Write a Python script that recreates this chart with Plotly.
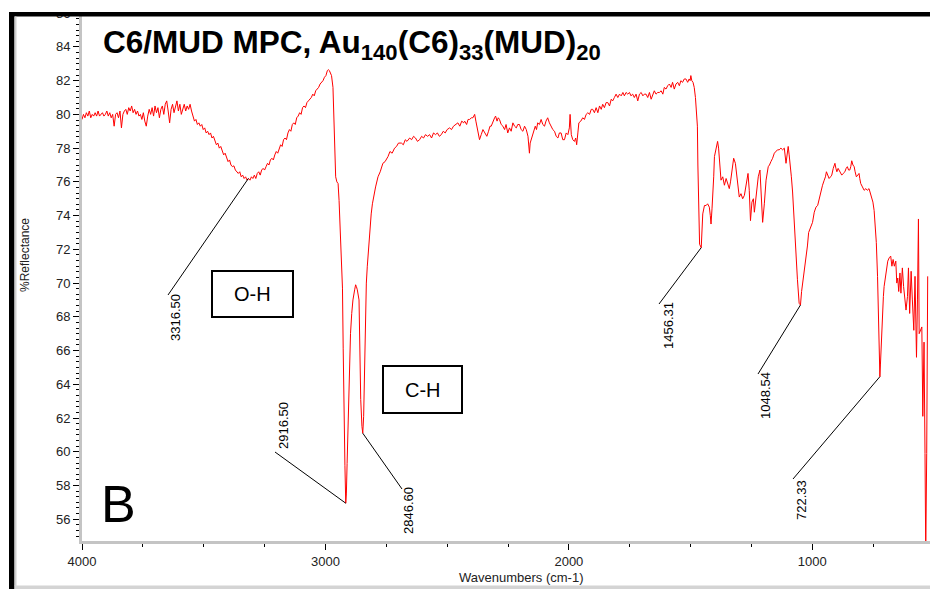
import plotly.graph_objects as go

# ---------------- data ----------------
wn_plateau = [
    4000, 3994, 3988, 3982, 3976, 3970, 3964, 3958, 3952, 3946,
    3940, 3934, 3928, 3922, 3916, 3910, 3904, 3898, 3892, 3886,
    3880, 3874, 3868, 3862, 3856, 3850, 3844, 3838, 3832, 3826,
    3820, 3814, 3808, 3802, 3796, 3790, 3784, 3778, 3772, 3766,
    3760, 3754, 3748, 3742, 3736, 3730, 3724, 3718, 3712, 3706,
    3700, 3694, 3688, 3682, 3676, 3670, 3664, 3658, 3652, 3646,
    3640, 3634, 3628, 3622, 3616, 3610, 3604, 3598, 3592, 3586,
    3580, 3574, 3568, 3562, 3556, 3550]
r_plateau = [
    79.7, 80.0, 79.8, 80.1, 79.9, 80.2, 79.8, 80.0, 79.9, 80.1,
    79.9, 80.2, 79.9, 80.0, 80.1, 79.9, 80.0, 80.2, 79.9, 80.1,
    79.8, 80.0, 79.3, 80.0, 80.1, 79.8, 80.2, 79.2, 80.0, 80.2,
    80.3, 80.0, 80.4, 80.2, 80.5, 80.1, 80.3, 80.0, 80.2, 79.9,
    80.0, 79.7, 80.1, 79.6, 79.3, 79.9, 80.3, 80.0, 80.4, 79.9,
    80.5, 80.1, 80.4, 79.8, 80.3, 80.5, 80.0, 80.6, 80.8, 80.2,
    79.5, 80.3, 80.6, 80.1, 80.5, 80.8, 80.2, 80.6, 80.0, 80.4,
    80.6, 80.2, 80.5, 80.3, 80.6, 80.2]

wn_oh_band = [
    3544, 3538, 3532, 3526, 3520, 3514, 3508, 3502, 3496, 3490,
    3484, 3478, 3472, 3466, 3460, 3454, 3448, 3442, 3436, 3430,
    3424, 3418, 3412, 3406, 3400, 3394, 3388, 3382, 3376, 3370,
    3364, 3358, 3352, 3346, 3340, 3334, 3328, 3322, 3316.5, 3310,
    3304, 3298, 3292, 3286, 3280, 3274, 3268, 3262, 3256, 3250,
    3244, 3238, 3232, 3226, 3220, 3214, 3208, 3202, 3196, 3190,
    3184, 3178, 3172, 3166, 3160, 3154, 3148, 3142, 3136, 3130,
    3124, 3118, 3112, 3106, 3100, 3094, 3088, 3082, 3076, 3070,
    3064, 3058, 3052, 3046, 3040, 3034, 3028, 3022, 3016, 3010,
    3004, 2998, 2992, 2988, 2984, 2980]
r_oh_band = [
    79.8, 79.6, 79.7, 79.4, 79.5, 79.3, 79.4, 79.1, 79.2, 78.9,
    79.0, 78.8, 78.9, 78.6, 78.7, 78.4, 78.2, 78.3, 78.0, 78.1,
    77.8, 77.6, 77.7, 77.4, 77.2, 77.3, 77.0, 76.9, 76.95, 76.7,
    76.6, 76.5, 76.6, 76.3, 76.4, 76.2, 76.3, 76.1, 76.2, 76.1,
    76.3, 76.2, 76.4, 76.2, 76.5, 76.6, 76.4, 76.7, 76.8, 76.7,
    76.9, 77.1, 77.0, 77.3, 77.4, 77.3, 77.6, 77.8, 77.7, 78.0,
    78.2, 78.1, 78.5, 78.6, 78.5, 78.9, 79.1, 79.0, 79.4, 79.5,
    79.4, 79.8, 79.9, 80.1, 80.0, 80.4, 80.5, 80.4, 80.7, 80.8,
    80.9, 81.0, 81.2, 81.1, 81.4, 81.5, 81.6, 81.8, 81.9, 82.0,
    82.2, 82.3, 82.6, 82.65, 82.6, 82.5]

wn_ch_band = [
    2975, 2969, 2966, 2961, 2958, 2953, 2948, 2944, 2938, 2934,
    2932, 2930, 2927, 2925, 2922, 2920, 2916.5, 2914, 2911, 2907,
    2904, 2897, 2892, 2887, 2880, 2876, 2873, 2869, 2862, 2859,
    2855, 2850, 2846.6, 2843, 2839, 2835, 2832, 2828, 2825, 2818,
    2812, 2807, 2800, 2794, 2784, 2775, 2764, 2755, 2743, 2735,
    2726, 2716, 2708, 2700]
r_ch_band = [
    82.3, 81.6, 80.3, 77.9, 76.3, 76.0, 75.9, 74.9, 73.0, 71.4,
    70.5, 69.7, 66.1, 63.5, 61.5, 59.2, 56.95, 57.5, 59.3, 62.0,
    64.1, 67.0, 68.2, 69.0, 69.6, 69.9, 69.8, 69.6, 69.0, 66.0,
    63.1, 61.5, 61.1, 62.1, 66.0, 68.5, 70.0, 71.0, 71.7, 73.3,
    74.1, 74.7, 75.3, 75.7, 76.3, 76.6, 77.1, 77.2, 77.5, 77.8,
    77.7, 78.0, 78.1, 78.3]

wn_mid = [
    2688, 2680, 2672, 2665, 2654, 2646, 2638, 2630, 2622, 2613,
    2605, 2597, 2589, 2580, 2572, 2564, 2556, 2548, 2540, 2532,
    2524, 2516, 2508, 2500, 2490, 2482, 2474, 2466, 2456, 2448,
    2440, 2432, 2428, 2420, 2414, 2408, 2400, 2394, 2387, 2382,
    2378, 2372, 2367, 2360, 2353, 2345, 2337, 2330, 2324, 2319,
    2312, 2305, 2301, 2295, 2290, 2285, 2278, 2271, 2264, 2258,
    2251, 2244, 2237, 2230, 2223, 2216, 2210, 2203, 2196, 2189,
    2182, 2175, 2168, 2164, 2162, 2159, 2155, 2150, 2145, 2138,
    2133, 2128, 2121, 2114, 2107, 2100, 2094, 2087, 2080, 2073,
    2066, 2059, 2052, 2045, 2039, 2032, 2025, 2018, 2011, 2004,
    1998, 1995, 1992, 1990, 1984, 1977, 1972, 1968, 1963, 1959,
    1951, 1943, 1936, 1929, 1922, 1915, 1908, 1902, 1895, 1888,
    1881, 1874, 1867, 1861, 1854, 1847, 1840, 1833, 1826, 1820,
    1813, 1806, 1799, 1792, 1785, 1778, 1772, 1765, 1758, 1751,
    1745, 1738, 1731, 1724, 1717, 1710, 1703, 1696, 1690, 1683,
    1676, 1669, 1662, 1655, 1649, 1642, 1635, 1628, 1621, 1614,
    1608, 1601, 1594, 1587, 1580, 1574, 1567, 1560, 1553, 1546,
    1540, 1533, 1526, 1519, 1512, 1506, 1502, 1499, 1495, 1490,
    1485, 1480, 1478, 1475, 1472]
r_mid = [
    78.3, 78.2, 78.5, 78.4, 78.6, 78.5, 78.7, 78.6, 78.4, 78.5,
    78.7, 78.6, 78.8, 78.7, 78.8, 78.6, 78.9, 78.8, 78.9, 78.7,
    78.8, 79.0, 78.9, 79.1, 79.2, 79.1, 79.3, 79.4, 79.5, 79.3,
    79.6, 79.5, 79.6, 79.4, 79.7, 79.7, 79.8, 79.8, 80.0, 79.6,
    79.3, 78.9, 78.5, 78.8, 79.1, 78.9, 78.7, 79.0, 79.3, 79.3,
    79.6, 79.8, 79.9, 79.6, 79.8, 79.7, 79.4, 79.3, 79.1, 79.4,
    78.9, 79.2, 79.0, 79.5, 79.3, 79.2, 79.4, 79.4, 79.1, 79.0,
    79.3, 79.1, 78.7, 78.2, 77.7, 78.3, 78.5, 78.8, 79.0, 79.3,
    79.1, 79.5, 79.4, 79.7, 79.4, 79.3, 79.6, 79.8, 79.5, 79.3,
    79.1, 79.0, 78.7, 78.6, 78.9, 78.9, 78.5, 78.5, 78.9, 78.8,
    79.2, 80.0, 79.1, 78.8, 78.5, 78.4, 78.6, 78.2, 78.9, 79.5,
    79.6, 79.8, 79.7, 80.0, 80.1, 80.0, 80.3, 80.3, 80.1, 80.4,
    80.1, 80.5, 80.3, 80.6, 80.4, 80.7, 80.7, 80.5, 80.9, 80.8,
    81.0, 81.2, 81.0, 81.2, 81.1, 81.3, 81.1, 81.3, 81.2, 81.3,
    81.1, 81.2, 81.0, 81.2, 80.8, 81.2, 81.3, 81.1, 81.2, 81.2,
    81.0, 81.3, 80.9, 81.2, 81.4, 81.2, 81.3, 81.3, 81.4, 81.2,
    81.6, 81.5, 81.7, 81.8, 81.6, 81.9, 81.5, 81.8, 81.9, 81.7,
    82.0, 81.9, 82.1, 82.1, 81.9, 82.1, 82.0, 82.3, 82.0, 81.9,
    81.6, 81.0, 80.5, 79.9, 79.3]

wn_fingerprint = [
    1470, 1468, 1466, 1463, 1456.31, 1454, 1450, 1443, 1436, 1430,
    1423, 1419, 1416, 1412, 1409, 1405, 1402, 1395, 1389, 1385,
    1382, 1378, 1375, 1368, 1361, 1354, 1348, 1341, 1336, 1330,
    1323, 1316, 1311, 1307, 1300, 1293, 1286, 1279, 1274, 1270,
    1264, 1259, 1254, 1248, 1242, 1238, 1231, 1226, 1222, 1215,
    1210, 1204, 1197, 1190, 1181, 1176, 1170, 1163, 1156, 1150,
    1143, 1136, 1129, 1122, 1115, 1108, 1104, 1099, 1095, 1091,
    1086, 1081, 1076, 1070, 1067, 1061, 1054, 1048.54, 1044, 1037,
    1031, 1026, 1020, 1015, 1006, 999, 992, 985, 978, 972,
    965, 958, 951, 946, 942, 936, 931, 925, 920, 914,
    907, 903, 899, 894, 890, 884, 879, 873, 866, 861,
    856, 851, 846, 842, 838, 833, 828, 824, 819, 813,
    808, 805, 801, 794, 787, 780, 774, 767, 761, 756,
    751, 746, 741, 737, 732, 728, 725, 722.33, 720, 718,
    715, 712, 708, 705, 701, 698, 694, 690, 684, 678,
    673, 668, 663, 657, 653, 649, 645, 640, 636, 630,
    625, 619, 615, 609, 605, 600, 594, 589, 583, 578,
    572, 568, 564, 561, 556, 550, 546, 541, 537, 534,
    530, 526]
r_fingerprint = [
    77.0, 75.4, 73.5, 72.3, 72.1, 72.7, 74.1, 74.6, 74.6, 74.7,
    74.5, 74.0, 73.5, 74.4, 75.1, 76.3, 77.5, 78.1, 78.4, 78.0,
    77.5, 76.8, 76.1, 76.3, 75.8, 76.2, 75.9, 75.6, 76.0, 76.7,
    77.4, 77.1, 76.5, 75.9, 75.1, 75.3, 75.0, 75.2, 75.7, 76.2,
    76.5, 75.5, 73.7, 74.8, 75.0, 74.2, 75.1, 75.8, 76.3, 76.7,
    75.5, 73.6, 74.7, 76.1, 76.9, 77.0, 77.2, 77.4, 77.7, 77.8,
    77.9, 77.9, 78.0, 77.9, 78.0, 77.1, 77.6, 78.1, 77.6, 77.1,
    76.3, 75.4, 73.9, 72.4, 71.4, 70.2, 68.8, 68.7, 69.5, 70.2,
    70.8, 71.4, 72.2, 73.0, 73.3, 73.6, 74.2, 74.5, 74.6, 75.0,
    75.5, 75.8, 76.1, 76.3, 76.6, 76.4, 76.2, 76.3, 76.4, 76.8,
    77.1, 76.8, 76.6, 76.8, 76.7, 76.6, 76.4, 76.5, 76.6, 76.8,
    76.9, 76.7, 76.7, 76.9, 77.25, 77.0, 76.9, 76.6, 76.3, 76.4,
    76.5, 76.2, 75.9, 75.7, 75.5, 75.6, 75.5, 75.6, 75.3, 75.1,
    74.8, 74.3, 73.3, 72.4, 70.4, 68.4, 66.5, 64.45, 65.2, 66.0,
    67.2, 68.4, 69.2, 69.8, 70.3, 70.6, 71.0, 71.3, 71.5, 71.6,
    71.0, 71.4, 71.0, 71.3, 70.0, 70.3, 69.5, 70.6, 69.4, 70.9,
    69.8, 69.0, 68.4, 69.2, 70.9, 68.2, 70.7, 69.0, 67.2, 70.4,
    65.6, 69.0, 73.8, 67.0, 67.2, 67.4, 62.1, 66.5, 59.9, 54.0,
    59.9, 70.4]

wavenumber = wn_plateau + wn_oh_band + wn_ch_band + wn_mid + wn_fingerprint
reflectance = r_plateau + r_oh_band + r_ch_band + r_mid + r_fingerprint
assert len(wavenumber) == len(reflectance)

# labelled peaks
peak_wn = [3316.50, 2916.50, 2846.60, 1456.31, 1048.54, 722.33]
peak_r = [76.2, 56.95, 61.1, 72.1, 68.7, 64.45]

x_ticks = [4000, 3000, 2000, 1000]
y_ticks = [56, 58, 60, 62, 64, 66, 68, 70, 72, 74, 76, 78, 80, 82, 84, 86]

title_html = "<b>C6/MUD MPC, Au<sub>140</sub>(C6)<sub>33</sub>(MUD)<sub>20</sub></b>"

# ---------------- layout geometry ----------------
W, H = 930, 589
PL, PR, PT, PB = 82, 930, 12, 541
X_RANGE = [4000, 516.5]
Y_RANGE = [54.71, 86.07]


def paper_x(px):
    return (px - PL) / (PR - PL)


def paper_y(py):
    return (PB - py) / (PB - PT)


def data_x(px):
    return X_RANGE[0] + (px - PL) / (PR - PL) * (X_RANGE[1] - X_RANGE[0])


def data_y(py):
    return Y_RANGE[1] - (py - PT) / (PB - PT) * (Y_RANGE[1] - Y_RANGE[0])


FONT = "Liberation Sans, Arial, sans-serif"

fig = go.Figure()
fig.add_trace(go.Scatter(
    x=wavenumber, y=reflectance, mode="lines",
    line=dict(color="#ff0000", width=1), hoverinfo="skip", showlegend=False))

# peak labels: (line end px, text centre px)
label_geom = [
    ((168, 295), (175, 318)),
    ((275, 452), (283, 426)),
    ((402, 489), (408, 511)),
    ((659, 304), (668, 326)),
    ((758, 374), (765, 396)),
    ((793, 479), (801, 500)),
]

shapes = []
annotations = []
for wn, r, (lend, tc) in zip(peak_wn, peak_r, label_geom):
    shapes.append(dict(type="line", xref="x", yref="y", x0=wn, y0=r,
                       x1=data_x(lend[0]), y1=data_y(lend[1]),
                       line=dict(color="black", width=1)))
    annotations.append(dict(xref="paper", yref="paper", x=paper_x(tc[0]), y=paper_y(tc[1]),
                            text=f"{wn:.2f}", textangle=-90, showarrow=False,
                            xanchor="center", yanchor="middle",
                            font=dict(family=FONT, size=13, color="black")))

# boxed group labels
for txt, (x0, y0, x1, y1) in [("O-H", (212, 271, 293, 317)), ("C-H", (383, 366, 462, 413))]:
    shapes.append(dict(type="rect", xref="paper", yref="paper",
                       x0=paper_x(x0), x1=paper_x(x1), y0=paper_y(y1), y1=paper_y(y0),
                       line=dict(color="black", width=2), fillcolor="rgba(0,0,0,0)"))
    annotations.append(dict(xref="paper", yref="paper", x=paper_x((x0 + x1) / 2),
                            y=paper_y((y0 + y1) / 2), text=txt, showarrow=False,
                            xanchor="center", yanchor="middle",
                            font=dict(family=FONT, size=20, color="black")))

# title, panel letter, axis titles
annotations.append(dict(xref="paper", yref="paper", x=paper_x(101), y=paper_y(44),
                        text=title_html, showarrow=False, xanchor="left", yanchor="middle",
                        font=dict(family=FONT, size=31.5, color="black")))
annotations.append(dict(xref="paper", yref="paper", x=paper_x(99), y=paper_y(504),
                        text="B", showarrow=False, xanchor="left", yanchor="middle",
                        font=dict(family=FONT, size=52, color="black")))
annotations.append(dict(xref="paper", yref="paper", x=paper_x(521), y=paper_y(577),
                        text="Wavenumbers (cm-1)", showarrow=False,
                        xanchor="center", yanchor="middle",
                        font=dict(family=FONT, size=13, color="#222222")))
annotations.append(dict(xref="paper", yref="paper", x=paper_x(25), y=paper_y(255),
                        text="%Reflectance", showarrow=False, textangle=-90,
                        xanchor="center", yanchor="middle",
                        font=dict(family="Liberation Sans Narrow, " + FONT, size=12, color="#222222")))

# window frame (screenshot border)
frame = [
    ((PL - 100, 0, PR + 5, 12), "white"),
    ((9, 12, PR + 5, 16.5), "black"),
    ((9, 12, 14.5, H), "black"),
    ((14.5, 16.5, 16.5, 586), "#cfcfcf"),
    ((14.5, 585.5, PR + 5, H), "#d4d4d4"),
]
for (x0, y0, x1, y1), col in frame:
    shapes.append(dict(type="rect", xref="paper", yref="paper", layer="above",
                       x0=paper_x(x0), x1=paper_x(x1), y0=paper_y(y1), y1=paper_y(y0),
                       line=dict(width=0), fillcolor=col))

axis_common = dict(showgrid=False, zeroline=False, showline=True, linecolor="#c4c4c4",
                   linewidth=3, ticks="outside", ticklen=6, tickwidth=1, tickcolor="black",
                   tickfont=dict(family=FONT, size=13, color="#222222"))

fig.update_layout(
    width=W, height=H,
    margin=dict(l=PL, r=W - PR, t=PT, b=H - PB),
    paper_bgcolor="white", plot_bgcolor="white",
    xaxis=dict(range=X_RANGE, tickvals=x_ticks, ticktext=[str(v) for v in x_ticks],
               minor=dict(dtick=250, tick0=0, ticks="outside", ticklen=3, tickcolor="black"),
               **axis_common),
    yaxis=dict(range=Y_RANGE, tickvals=y_ticks, ticktext=[str(v) for v in y_ticks],
               minor=dict(dtick=1 / 3, tick0=0, ticks="outside", ticklen=3, tickcolor="black"),
               **axis_common),
    shapes=shapes,
    annotations=annotations,
)

fig.write_html(
    "out.html",
    config={"displayModeBar": False, "staticPlot": True},
    post_script="document.body.style.margin='0px';document.body.style.padding='0px';"
                "document.body.style.overflow='hidden';",
)
